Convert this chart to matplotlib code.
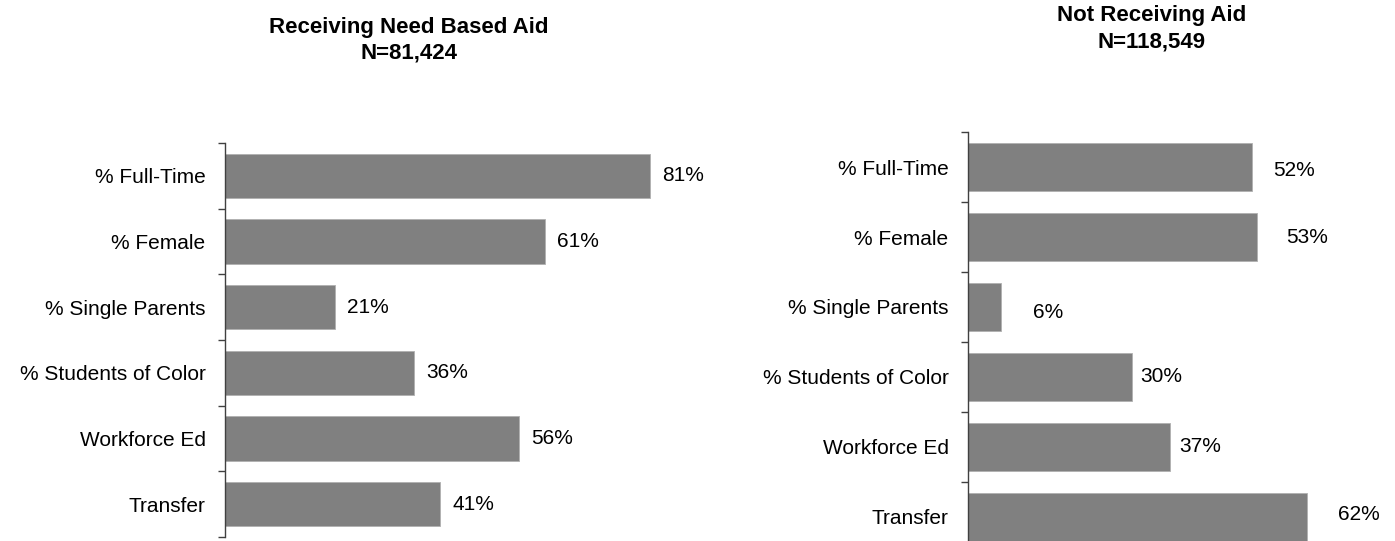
import matplotlib.pyplot as plt
import numpy as np

plt.rcParams['font.family'] = ['Liberation Sans', 'DejaVu Sans']

categories = ['% Full-Time', '% Female', '% Single Parents', '% Students of Color',
              'Workforce Ed', 'Transfer']
need_aid = [81, 61, 21, 36, 56, 41]
no_aid = [52, 53, 6, 30, 37, 62]
titles = ['Receiving Need Based Aid\nN=81,424', 'Not Receiving Aid\nN=118,549']

W, H = 1395, 541
fig = plt.figure(figsize=(W / 100, H / 100), dpi=100)

# axes boxes in pixels: left, top, bottom, px per percent, label offsets, title centre
panels = [
    (225, 143, 537, 5.25, need_aid, [12] * 6, [0] * 6, (409, 27)),
    (968, 132, 552, 5.46, no_aid, [21, 29, 32, 8, 9, 31], [3, 0, 5, 0, 0, -3], (1152, 16)),
]

for (lx, top, bot, ppx, vals, dxs, dys, tpos), title in zip(panels, titles):
    width_px = W - lx - 5 if lx > 700 else 525
    ax = fig.add_axes([lx / W, (H - bot) / H, width_px / W, (bot - top) / H])
    y = np.arange(len(categories))
    ax.barh(y, vals, height=0.68, color='#808080', edgecolor='#b0b0b0', linewidth=0.6)
    ax.set_xlim(0, width_px / ppx)
    ax.set_ylim(len(categories) - 0.5, -0.5)
    ax.set_yticks(y)
    ax.set_yticklabels(categories, fontsize=15)
    ax.set_yticks(np.arange(len(categories) + 1) - 0.5, minor=True)
    ax.tick_params(axis='y', which='major', length=0, pad=14)
    ax.tick_params(axis='y', which='minor', length=5, width=1, color='#404040')
    ax.set_xticks([])
    for s in ['top', 'right', 'bottom']:
        ax.spines[s].set_visible(False)
    ax.spines['left'].set_color('#404040')
    ax.spines['left'].set_linewidth(1)
    for yi, v, dx, dy in zip(y, vals, dxs, dys):
        ax.annotate(f'{v}%', (v, yi), xytext=(dx * 0.72, -dy * 0.72),
                    textcoords='offset points', va='center', ha='left', fontsize=15)
    line1, line2 = title.split('\n')
    fig.text(tpos[0] / W, 1 - tpos[1] / H, line1, ha='center', va='center',
             fontsize=16, fontweight='bold')
    fig.text(tpos[0] / W, 1 - (tpos[1] + 26) / H, line2, ha='center', va='center',
             fontsize=16, fontweight='bold')

fig.savefig('out.png', dpi=100)
